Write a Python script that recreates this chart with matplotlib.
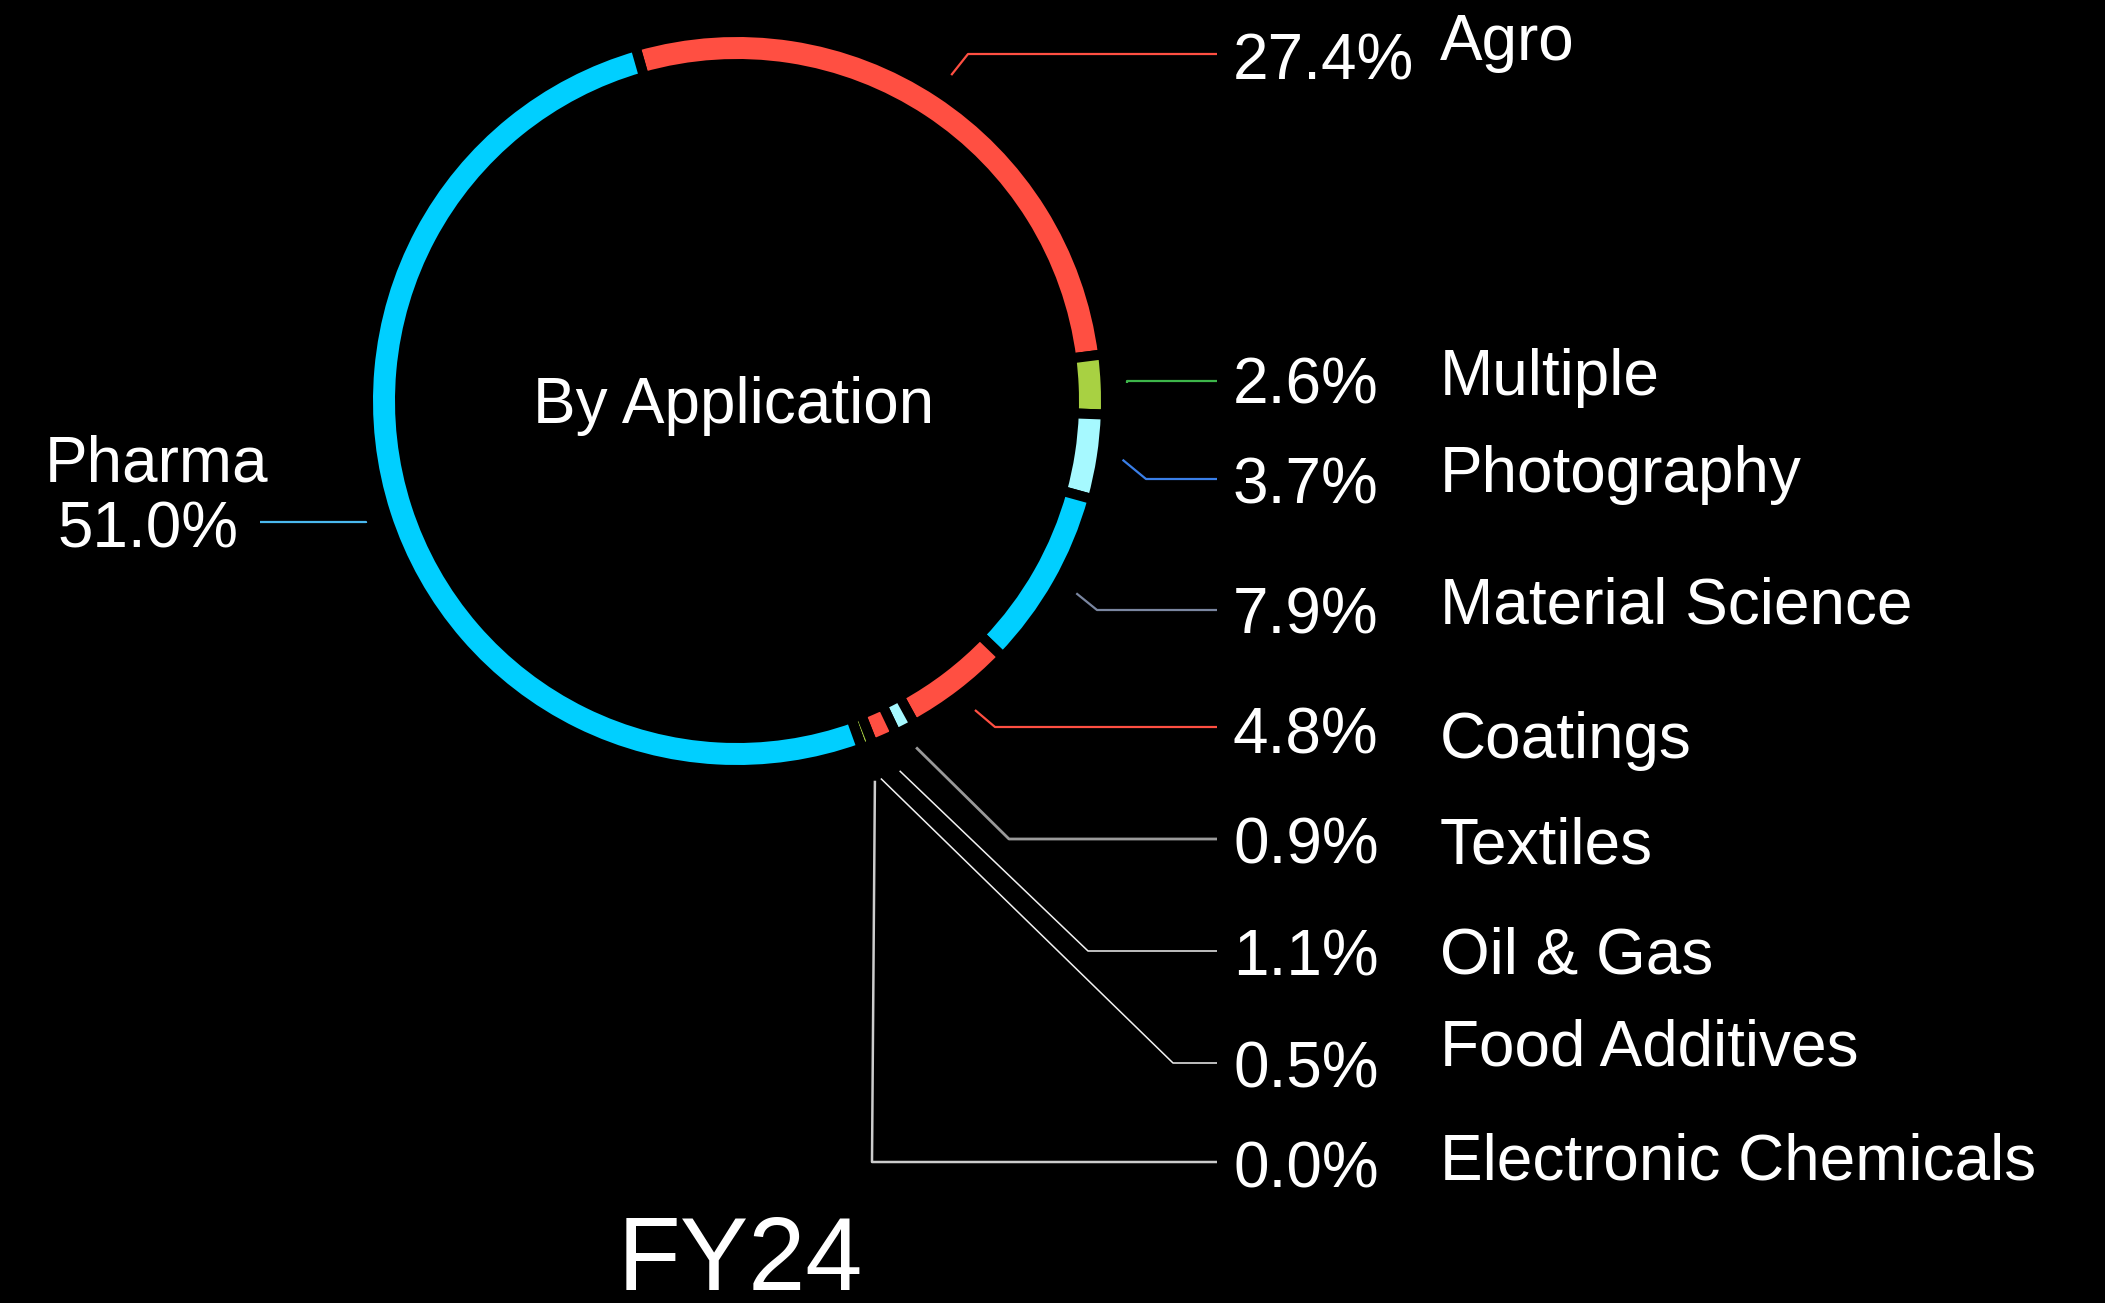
import numpy as np
import matplotlib.pyplot as plt

W, H = 2105, 1303

# data
categories = ['Agro', 'Multiple', 'Photography', 'Material Science', 'Coatings',
              'Textiles', 'Oil & Gas', 'Food Additives', 'Electronic Chemicals', 'Pharma']
shares = [27.4, 2.6, 3.7, 7.9, 4.8, 0.9, 1.1, 0.5, 0.0, 51.0]
ring_colors = ['#ff4f42', '#a8d142', '#a6f9ff', '#00cfff', '#ff4f42',
               '#a6f9ff', '#ff4f42', '#a8d142', '#a6f9ff', '#00cfff']
leader_colors = ['#ff4f42', '#3db54a', '#3a7fe8', '#7a86a0', '#ff4f42',
                 '#9a9a9a', '#f2f2f2', '#f2f2f2', '#cccccc', '#4ab8ee']
leader_widths = [1.6, 1.6, 1.6, 1.6, 1.6, 2.0, 1.1, 1.1, 1.8, 1.6]
title = 'By Application'
period = 'FY24'

# layout, in pixels measured from the top-left corner
cx, cy = 737, 401
start_angle = 106
lead_r = [390, 390, 390, 390, 390, 390, 404, 404, 404, 390]
lead_y = [54, 381, 479, 610, 727, 839, 951, 1063, 1162, 522]
elbow_x = [968, None, 1146, 1097, 995, 1009, 1088, 1173, 872, None]
lead_end = [1217] * 9 + [260]
pct_base = [80, 404, 503, 634, 753, 863, 975, 1087, 1187]
name_base = [60, 395, 492, 623, 758, 863, 973, 1065, 1180]
pct_x, name_x = 1233, 1440
FS = 46

FONT = ['Liberation Sans', 'DejaVu Sans']
plt.rcParams['font.family'] = FONT

fig = plt.figure(figsize=(W / 100, H / 100), dpi=100, facecolor='black')
ax = fig.add_axes([0, 0, 1, 1])
ax.set_facecolor('black')


def Y(y):
    return H - y


# faint outline of every slice
outline, _ = ax.pie(shares, radius=371, center=(cx, Y(cy)), startangle=start_angle,
                    counterclock=False, colors=['none'] * len(shares),
                    wedgeprops=dict(width=37, linewidth=0.6, linestyle=(0, (4, 3))))
for w, c in zip(outline, ring_colors):
    w.set_edgecolor(c)
    w.set_alpha(0.45)
    w.set_facecolor('none')

# colored ring, thick black edge makes the gaps
ax.pie(shares, radius=369, center=(cx, Y(cy)), startangle=start_angle,
       counterclock=False, colors=ring_colors,
       wedgeprops=dict(width=32, edgecolor='black', linewidth=7.2))

ax.set_xlim(0, W)
ax.set_ylim(0, H)
ax.set_aspect('equal')
ax.axis('off')

# leader lines
cum = np.cumsum(shares)
for i, v in enumerate(shares):
    theta = np.radians(start_angle - 3.6 * (cum[i] - v / 2))
    sx = cx + lead_r[i] * np.cos(theta)
    sy = cy - lead_r[i] * np.sin(theta)
    ex = elbow_x[i] if elbow_x[i] is not None else sx
    xs = [sx, ex, lead_end[i]]
    ys = [Y(sy), Y(lead_y[i]), Y(lead_y[i])]
    ax.plot(xs, ys, color=leader_colors[i], lw=leader_widths[i], solid_capstyle='butt')

# right side labels
for i in range(9):
    ax.text(pct_x, Y(pct_base[i]), f'{shares[i]:.1f}%', color='white', fontsize=FS,
            ha='left', va='baseline')
    ax.text(name_x, Y(name_base[i]), categories[i], color='white', fontsize=FS,
            ha='left', va='baseline')

# Pharma on the left
ax.text(45, Y(481), categories[9], color='white', fontsize=FS, ha='left', va='baseline')
ax.text(58, Y(547), f'{shares[9]:.1f}%', color='white', fontsize=FS, ha='left', va='baseline')

ax.text(cx - 3, Y(423), title, color='white', fontsize=FS, ha='center', va='baseline')
ax.text(cx + 3, Y(1290), period, color='white', fontsize=74, ha='center', va='baseline')

fig.savefig('out.png', dpi=100, facecolor='black')
